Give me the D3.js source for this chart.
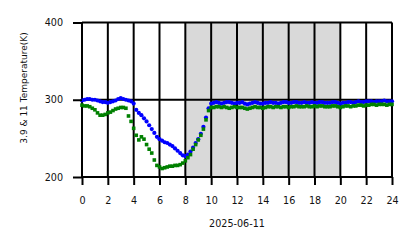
<!DOCTYPE html>
<meta charset="utf-8">
<script src="https://d3js.org/d3.v7.min.js"></script>
<style>
  body { margin: 0; background: #fff; }
  text { font-family: "DejaVu Sans", sans-serif; }
</style>
<div id="chart"></div>
<script>

  // hour ticks and temperature ticks
  var xTicks = [0, 2, 4, 6, 8, 10, 12, 14, 16, 18, 20, 22, 24];
  var yTicks = [200, 300, 400];
  var dateLabel = "2025-06-11";
  var nightBand = [8, 20];

  // samples every 0.2 h from 0 to 24
  var hours = d3.range(121).map(function (i) { return i / 5; });

  // 3.9 um brightness temperature (K)
  var t39 = [
    299, 300, 301, 301, 300, 300,
    299, 298, 297, 297, 296,
    297, 298, 299, 301, 302,
    301, 300, 299, 298, 295,
    287, 283, 280, 276, 272,
    267, 262, 257, 252, 249,
    247, 245, 244, 242, 240,
    237, 234, 231, 228, 227,
    229, 233, 238, 244, 249,
    256, 265, 277, 289, 295,
    296, 297, 296, 295, 296, 297, 297, 296, 295, 296,
    296, 297, 295, 294, 295, 296, 297, 296, 295, 295,
    296, 296, 297, 296, 296, 295, 296, 297, 297, 296,
    296, 297, 297, 296, 296, 297, 296, 296, 297, 296,
    296, 297, 297, 296, 296, 296, 297, 297, 296, 295,
    296, 296, 297, 297, 296, 297, 298, 297, 297, 298,
    298, 298, 297, 298, 298, 298, 299, 298, 298, 298
  ];

  // 11 um brightness temperature (K)
  var t11 = [
    293, 292, 292, 291, 289, 287,
    283, 280, 280, 281, 283,
    284, 286, 288, 289, 290,
    290, 289, 279, 272, 263,
    254, 248, 252, 249, 242,
    236, 231, 222, 215, 213,
    211, 212, 213, 214, 214,
    215, 215, 216, 218, 221,
    225, 229, 236, 242, 248,
    254, 262, 274, 286, 290,
    290, 291, 291, 290, 291, 290, 289, 290, 291, 290,
    290, 290, 289, 288, 289, 290, 291, 290, 290, 289,
    290, 291, 291, 290, 291, 291, 290, 291, 291, 290,
    291, 291, 292, 291, 291, 291, 292, 291, 291, 292,
    291, 292, 292, 291, 291, 291, 292, 292, 291, 290,
    291, 292, 292, 291, 292, 292, 293, 293, 292, 293,
    293, 294, 294, 293, 294, 294, 294, 293, 294, 294
  ];

  var W = 418, H = 248;
  var plot = {left: 82, right: 392, top: 22.5, bottom: 177};

  var svg = d3.select("#chart").append("svg")
    .attr("width", W)
    .attr("height", H);

  var x = d3.scaleLinear().domain([0, 24]).range([plot.left, plot.right]);
  var y = d3.scaleLinear().domain([200, 400]).range([plot.bottom, plot.top]);

  // night shading
  svg.append("rect")
    .attr("x", x(nightBand[0]))
    .attr("y", plot.top)
    .attr("width", x(nightBand[1]) - x(nightBand[0]))
    .attr("height", plot.bottom - plot.top)
    .style("fill", "#d9d9d9");

  // grid lines
  svg.append("g").selectAll("line")
    .data(xTicks).enter().append("line")
    .attr("x1", function (d) { return x(d); })
    .attr("x2", function (d) { return x(d); })
    .attr("y1", plot.top).attr("y2", plot.bottom)
    .style("stroke", "#000").style("stroke-width", 2);

  svg.append("g").selectAll("line")
    .data(yTicks).enter().append("line")
    .attr("x1", plot.left).attr("x2", plot.right)
    .attr("y1", function (d) { return y(d); })
    .attr("y2", function (d) { return y(d); })
    .style("stroke", "#000").style("stroke-width", 2);

  // data points
  var pts = hours.map(function (h, i) { return {h: h, a: t39[i], b: t11[i]}; });

  svg.append("g").selectAll("circle")
    .data(pts).enter().append("circle")
    .attr("cx", function (d) { return x(d.h); })
    .attr("cy", function (d) { return y(d.a); })
    .attr("r", 2.1)
    .style("fill", "#0000ff");

  svg.append("g").selectAll("rect")
    .data(pts).enter().append("rect")
    .attr("x", function (d) { return x(d.h) - 1.8; })
    .attr("y", function (d) { return y(d.b) - 1.8; })
    .attr("width", 3.6).attr("height", 3.6)
    .style("fill", "#008000");

  // axes
  var xAxis = svg.append("g")
    .attr("transform", "translate(0," + plot.bottom + ")")
    .call(d3.axisBottom(x).tickValues(xTicks).tickSize(8).tickPadding(12));
  var yAxis = svg.append("g")
    .attr("transform", "translate(" + plot.left + ",0)")
    .call(d3.axisLeft(y).tickValues(yTicks).tickSize(9).tickPadding(10));

  [xAxis, yAxis].forEach(function (g) {
    g.select(".domain").remove();
    g.selectAll(".tick line").style("stroke", "#000").style("stroke-width", 2);
    g.selectAll(".tick text").style("font-size", "9.6px").style("fill", "#111")
      .style("font-family", "DejaVu Sans");
  });

  svg.append("text")
    .attr("x", x(12))
    .attr("y", 227)
    .attr("text-anchor", "middle")
    .style("font-size", "9.6px")
    .style("fill", "#111")
    .text(dateLabel);

  svg.append("text")
    .attr("transform", "translate(27,88) rotate(-90)")
    .attr("text-anchor", "middle")
    .style("font-size", "9px")
    .style("fill", "#111")
    .text("3.9 & 11 Temperature(K)");

</script>
